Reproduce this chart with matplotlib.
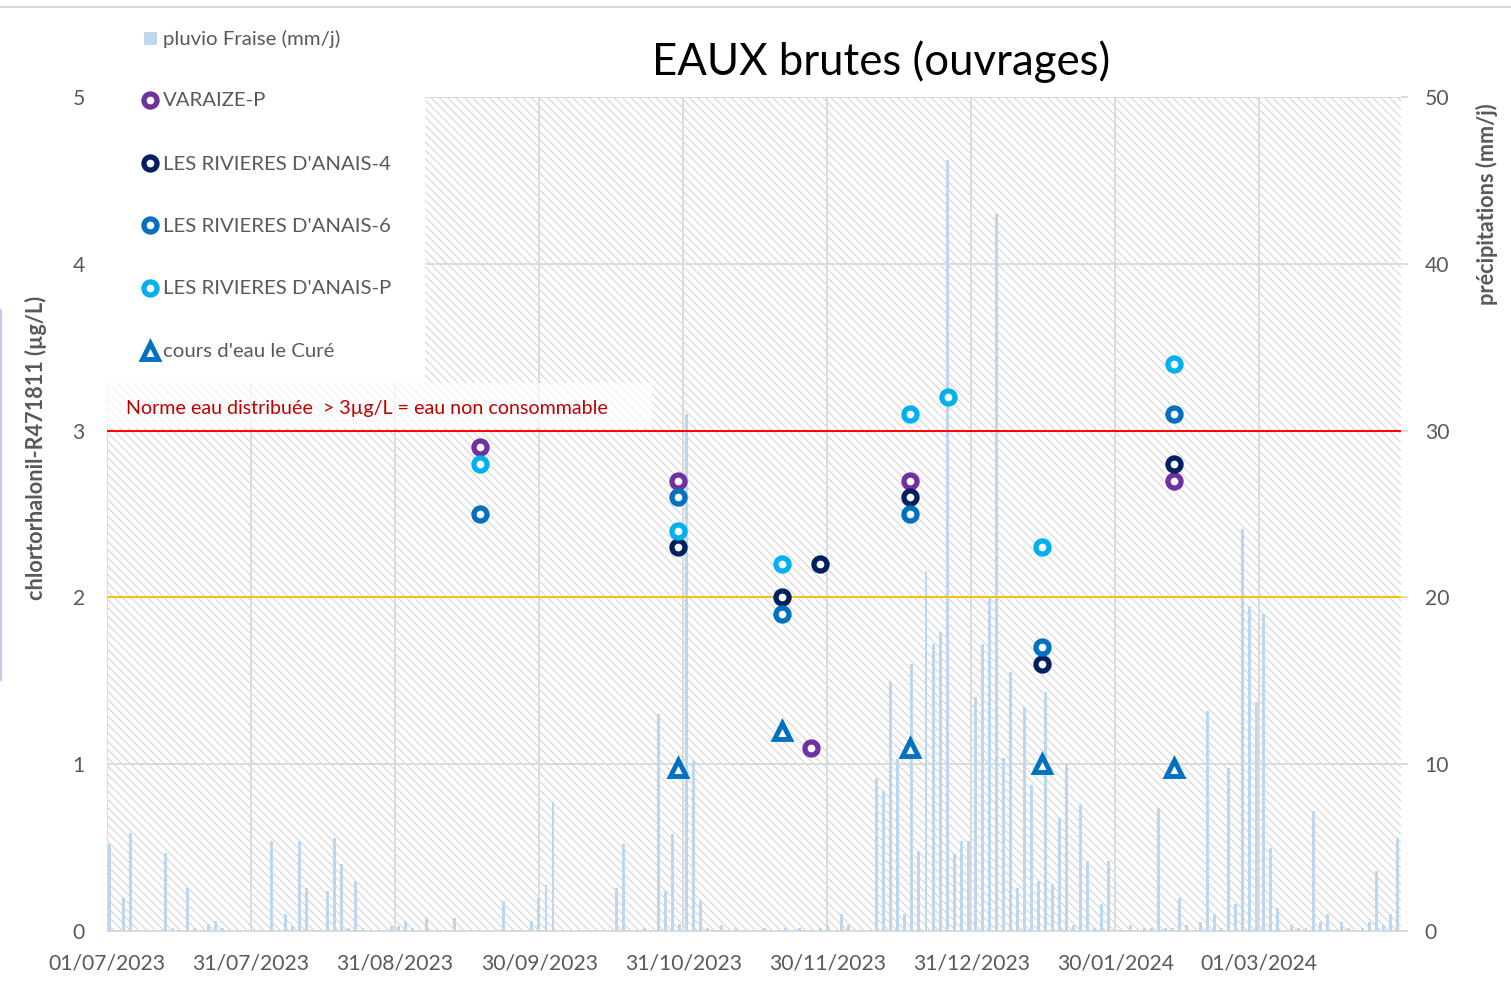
import matplotlib
matplotlib.use("Agg")
import matplotlib.pyplot as plt
import matplotlib.dates as mdates
from matplotlib.patches import Rectangle
from matplotlib.lines import Line2D
import numpy as np
import pandas as pd

plt.rcParams['font.family'] = ['Lato', 'DejaVu Sans']
plt.rcParams['hatch.linewidth'] = 0.7

# ---------------- data ----------------
title = "EAUX brutes (ouvrages)"
ylabel_left = "chlortorhalonil-R471811 (µg/L)"
ylabel_right = "précipitations (mm/j)"
norm_text = "Norme eau distribuée  > 3µg/L = eau non consommable"

varaize_dates = ["2023-09-18", "2023-10-30", "2023-11-27", "2023-12-18", "2024-02-12"]
varaize_vals = [2.9, 2.7, 1.1, 2.7, 2.7]

riv4_dates = ["2023-10-30", "2023-11-21", "2023-11-29", "2023-12-18", "2024-01-15", "2024-02-12"]
riv4_vals = [2.3, 2.0, 2.2, 2.6, 1.6, 2.8]

riv6_dates = ["2023-09-18", "2023-10-30", "2023-11-21", "2023-12-18", "2024-01-15", "2024-02-12"]
riv6_vals = [2.5, 2.6, 1.9, 2.5, 1.7, 3.1]

rivp_dates = ["2023-09-18", "2023-10-30", "2023-11-21", "2023-12-18", "2023-12-26", "2024-01-15", "2024-02-12"]
rivp_vals = [2.8, 2.4, 2.2, 3.1, 3.2, 2.3, 3.4]

cure_dates = ["2023-10-30", "2023-11-21", "2023-12-18", "2024-01-15", "2024-02-12"]
cure_vals = [0.98, 1.2, 1.1, 1.0, 0.98]

# daily rain (mm/j), one value per column slot
pluvio = [
    5.2, 0, 2.0, 5.9, 0, 0, 0, 0, 4.7, 0.2,
    0, 2.6, 0.2, 0, 0.4, 0.6, 0.2, 0, 0, 0,
    0, 0, 0, 5.4, 0, 1.0, 0.3, 5.4, 2.6, 0,
    0, 2.4, 5.6, 4.0, 0.2, 3.0, 0.2, 0, 0, 0,
    0.3, 0.3, 0.6, 0.2, 0, 0.8, 0, 0, 0, 0.8,
    0, 0, 0, 0, 0, 0, 1.8, 0, 0, 0,
    0.6, 2.0, 2.75, 7.75, 0, 0, 0, 0, 0, 0,
    0, 0, 2.6, 5.2, 0, 0, 0.2, 0, 13.0, 2.4,
    5.8, 0.4, 31.0, 10.2, 1.8, 0.2, 0, 0.35, 0, 0.15,
    0, 0, 0, 0.15, 0, 0, 0.15, 0, 0.2, 0,
    0, 0.15, 0.35, 0, 1.0, 0.35, 0, 0, 0, 9.2,
    8.4, 15.0, 10.3, 1.0, 16.0, 4.8, 21.6, 17.2, 17.9, 46.2,
    4.6, 5.4, 5.4, 14.0, 17.2, 20.0, 43.0, 10.4, 15.5, 2.6,
    13.4, 8.75, 3.0, 14.3, 2.8, 6.8, 10.0, 0.35, 7.6, 4.2,
    0.15, 1.6, 4.2, 0, 0, 0.35, 0, 0.15, 0.15, 7.4,
    0.15, 0.15, 2.0, 0.35, 0, 0.55, 13.2, 1.0, 0.15, 9.8,
    1.6, 24.1, 19.5, 13.7, 19.0, 5.0, 1.4, 0, 0.35, 0.15,
    0.15, 7.2, 0.55, 1.0, 0, 0.55, 0.15, 0, 0.15, 0.55,
    3.6, 0.35, 1.0, 5.6,
]

yticks_left = [0, 1, 2, 3, 4, 5]
yticks_right = [0, 10, 20, 30, 40, 50]
norm_level = 3.0
warn_level = 2.0
x_start = "2023-07-01"
x_end = "2024-03-31"
x_step_days = 30.5

# ---------------- styles ----------------
C_VAR = "#7030A0"
C_R4 = "#002060"
C_R6 = "#0070C0"
C_RP = "#00B0F0"
C_CURE = "#0070C0"
C_BAR = "#BDD7EE"
C_GRID = "#D9D9D9"
C_TXT = "#595959"

W, H, DPI = 1511, 989, 100
fig = plt.figure(figsize=(W / DPI, H / DPI), dpi=DPI)
fig.patch.set_facecolor("white")

def fx(px):
    return px / W

def fy(py):
    return 1 - py / H

L, R, T, B = 107, 1401, 97, 931
rect = [fx(L), fy(B), (R - L) / W, (B - T) / H]

# base axes: background, grid, tick labels
ax = fig.add_axes(rect, zorder=1)
ax.set_facecolor("white")
ax.add_patch(Rectangle((0, 0), 1, 1, transform=ax.transAxes, facecolor="white",
                       edgecolor="#D0D0D0", hatch="\\\\\\\\", lw=0, zorder=0))
x0 = mdates.date2num(pd.Timestamp(x_start))
x1 = mdates.date2num(pd.Timestamp(x_end))
ax.set_xlim(x0, x1)
ax.set_ylim(0, 5)
xt = [x0 + x_step_days * k for k in range(20) if x0 + x_step_days * k <= x1]
ax.set_xticks(xt)
ax.xaxis.set_major_formatter(mdates.DateFormatter("%d/%m/%Y"))
ax.set_yticks(yticks_left)
ax.set_axisbelow(True)
ax.grid(True, color=C_GRID, lw=1.3)
for s in ["top", "right", "left"]:
    ax.spines[s].set_visible(False)
ax.spines["bottom"].set_color(C_GRID)
ax.spines["bottom"].set_linewidth(1.3)
ax.tick_params(axis="both", length=0, colors=C_TXT, labelsize=15.2)
ax.tick_params(axis="x", pad=16)
ax.tick_params(axis="y", pad=16)

# bar axes (precipitation, right scale)
axb = fig.add_axes(rect, zorder=2)
axb.patch.set_alpha(0)
axb.bar(np.arange(len(pluvio)), pluvio, width=0.42, color=C_BAR, lw=0)
axb.set_xlim(-0.38, 183.5)
axb.set_ylim(0, 50)
axb.set_xticks([])
axb.yaxis.tick_right()
axb.set_yticks(yticks_right)
axb.tick_params(axis="y", length=5, width=1.3, color=C_GRID, colors=C_TXT, labelsize=15.2, pad=12)
axb.tick_params(axis="y", color=C_GRID)
for s in axb.spines.values():
    s.set_visible(False)

# scatter axes
axs = fig.add_axes(rect, zorder=3, sharex=ax, sharey=ax)
axs.patch.set_alpha(0)
axs.axis("off")
axs.axhline(norm_level, color="#FF0000", lw=1.4, zorder=1)
axs.axhline(warn_level, color="#FFC000", lw=1.4, zorder=1)

def d(lst):
    return mdates.date2num(pd.to_datetime(lst))

CIRC = dict(marker="o", ms=9.4, mew=3.8, mfc="white", ls="none")
TRI = dict(marker="^", ms=11.5, mew=3.5, mfc="white", ls="none")
axs.plot(d(varaize_dates), varaize_vals, mec=C_VAR, zorder=3, **CIRC)
axs.plot(d(riv4_dates), riv4_vals, mec=C_R4, zorder=4, **CIRC)
axs.plot(d(riv6_dates), riv6_vals, mec=C_R6, zorder=5, **CIRC)
axs.plot(d(rivp_dates), rivp_vals, mec=C_RP, zorder=6, **CIRC)
axs.plot(d(cure_dates), cure_vals, mec=C_CURE, zorder=7, **TRI)

# white legend area and semi-transparent note box
fig.add_artist(Rectangle((fx(106), fy(383)), fx(425) - fx(106), fy(90) - fy(383),
                         transform=fig.transFigure, facecolor="white", lw=0, zorder=5))
fig.add_artist(Rectangle((fx(106), fy(428)), fx(652) - fx(106), fy(383) - fy(428),
                         transform=fig.transFigure, facecolor="white", alpha=0.7, lw=0, zorder=5))
fig.text(fx(126), fy(408), norm_text, color="#C00000", fontsize=14.1, va="center", zorder=6)

# legend entries
leg_y = [39, 101, 164, 226, 289, 352]
leg_lbl = ["pluvio Fraise (mm/j)", "VARAIZE-P", "LES RIVIERES D'ANAIS-4",
           "LES RIVIERES D'ANAIS-6", "LES RIVIERES D'ANAIS-P", "cours d'eau le Curé"]
fig.add_artist(Rectangle((fx(144), fy(45)), 13 / W, 13 / H, transform=fig.transFigure,
                         facecolor=C_BAR, lw=0, zorder=6))
for yy, col in zip(leg_y[1:5], [C_VAR, C_R4, C_R6, C_RP]):
    fig.add_artist(Line2D([fx(150)], [fy(yy - 1)], transform=fig.transFigure, mec=col,
                          zorder=6, **CIRC))
fig.add_artist(Line2D([fx(150)], [fy(leg_y[5] - 1)], transform=fig.transFigure, mec=C_CURE,
                      zorder=6, **TRI))
for yy, lb in zip(leg_y, leg_lbl):
    fig.text(fx(163), fy(yy), lb, color=C_TXT, fontsize=14.7, va="center", zorder=7)

# title and axis labels
fig.text(fx(881), fy(62), title, ha="center", va="center", fontsize=31.5, color="black")
fig.text(fx(36), fy(448), ylabel_left, rotation=90, ha="center", va="center",
         fontsize=15.6, fontweight="bold", color=C_TXT)
fig.text(fx(1487), fy(204), ylabel_right, rotation=90, ha="center", va="center",
         fontsize=15.6, fontweight="bold", color=C_TXT)

# chart frame line at top
fig.add_artist(Line2D([0, 1], [fy(7), fy(7)], transform=fig.transFigure, color=C_GRID, lw=1.5))
fig.add_artist(Line2D([fx(1), fx(1)], [fy(310), fy(680)], transform=fig.transFigure,
                      color="#C5CAE9", lw=1.5))

fig.savefig("out.png", dpi=DPI, facecolor="white")
